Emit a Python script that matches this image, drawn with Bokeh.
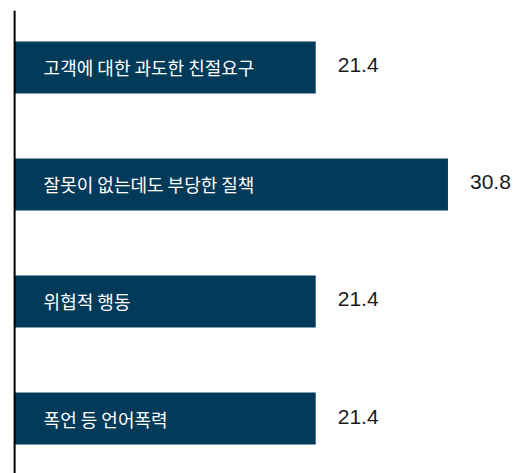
from bokeh.plotting import figure
from bokeh.models import ColumnDataSource, Range1d, Span
from bokeh.core.properties import value
from bokeh.embed import file_html
from bokeh.resources import INLINE

categories = ["고객에 대한 과도한 친절요구", "잘못이 없는데도 부당한 질책", "위협적 행동", "폭언 등 언어폭력"]
values = [21.4, 30.8, 21.4, 21.4]
value_labels = ["21.4", "30.8", "21.4", "21.4"]

positions = list(range(len(categories)))
src = ColumnDataSource(dict(y=positions, v=values, zero=[0] * len(values),
                            cat=categories, lab=value_labels))

p = figure(width=515, height=473, output_backend="svg", toolbar_location=None,
           x_range=Range1d(-0.15, 35.6), y_range=Range1d(3.47, -0.487),
           min_border_left=12, min_border_right=0, min_border_top=10, min_border_bottom=0)
p.outline_line_color = None
p.xaxis.visible = False
p.yaxis.visible = False
p.xgrid.visible = False
p.ygrid.visible = False
p.background_fill_color = "white"
p.border_fill_color = "white"

p.hbar(y="y", left=0, right="v", height=0.444, source=src,
       fill_color="#023a5a", line_color=None)

p.text(x="zero", y="y", text="cat", source=src, x_offset=29,
       text_color="white", text_font=value("Noto Sans CJK KR"),
       text_font_size="18px", text_baseline="middle", text_align="left")

p.text(x="v", y="y", text="lab", source=src, x_offset=22, y_offset=-2,
       text_color="#1a1a1a", text_font=value("Liberation Sans"),
       text_font_size="21px", text_baseline="middle", text_align="left")

p.add_layout(Span(location=0, dimension="height", line_color="black", line_width=2))

open("out.html", "w").write(file_html(p, INLINE))
